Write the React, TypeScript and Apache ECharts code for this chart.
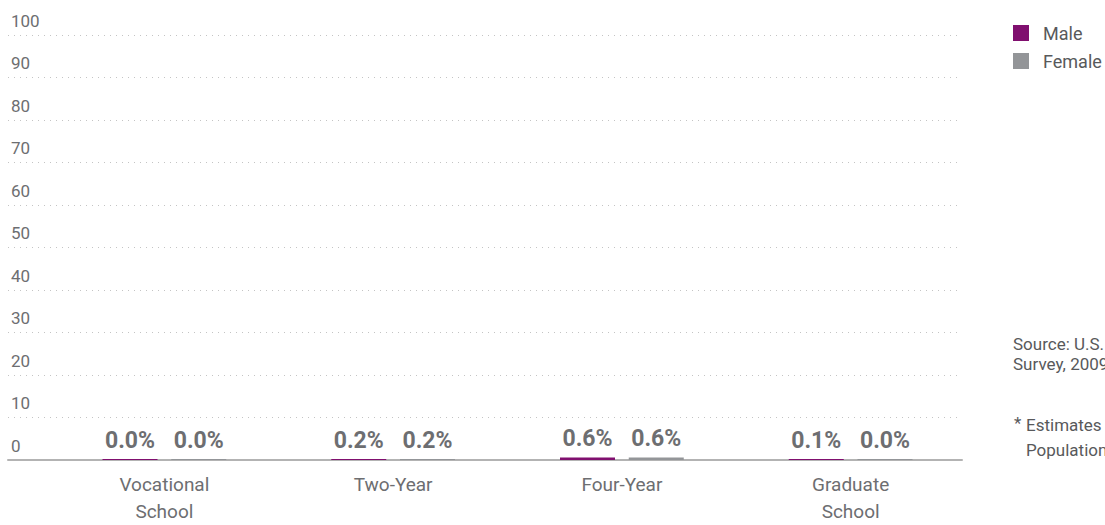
import React, { useEffect, useRef } from "react";
import * as echarts from "echarts";

const categories = ["Vocational\nSchool", "Two-Year", "Four-Year", "Graduate\nSchool"];
const maleValues = [0.0, 0.2, 0.6, 0.1];
const femaleValues = [0.0, 0.2, 0.6, 0.0];
const seriesNames = ["Male", "Female"];
const yMin = 0;
const yMax = 100;
const yInterval = 10;
const sourceLines = ["Source: U.S. Census Bureau, American Community", "Survey, 2009"];
const noteLines = ["Estimates are for the total U.S.", "Population"];

const MALE = "#800f6f";
const FEMALE = "#939598";
const TEXT = "#6d6e71";
const DARK = "#58595b";
const FONT = "Roboto, 'Noto Sans', sans-serif";

export default function App() {
  const ref = useRef<HTMLDivElement>(null);
  useEffect(() => {
    document.body.style.margin = "0";
    const chart = echarts.init(ref.current!, null, { renderer: "svg" });
    const barLabel = {
      show: true,
      position: "top",
      distance: 7,
      formatter: (p: any) => `${Number(p.value).toFixed(1)}%`,
      color: TEXT,
      fontFamily: FONT,
      fontWeight: "bold",
      fontSize: 23,
    };
    chart.setOption({
      animation: false,
      textStyle: { fontFamily: FONT },
      grid: [
        { left: 8, right: 143, top: 35, bottom: 65 },
        { left: 50, right: 140, top: 35, bottom: 65 },
      ],
      xAxis: [
        {
          gridIndex: 0,
          type: "category",
          data: [""],
          axisLine: { show: true, lineStyle: { color: "#b3b3b3", width: 2 } },
          axisTick: { show: false },
          axisLabel: { show: false },
          splitLine: { show: false },
        },
        {
          gridIndex: 1,
          type: "category",
          data: categories,
          axisLine: { show: false },
          axisTick: { show: false },
          axisLabel: {
            color: TEXT,
            fontSize: 19,
            fontFamily: FONT,
            margin: 11,
            lineHeight: 27,
          },
        },
      ],
      yAxis: [
        {
          gridIndex: 0,
          type: "value",
          min: yMin,
          max: yMax,
          interval: yInterval,
          axisLine: { show: false },
          axisTick: { show: false },
          axisLabel: {
            inside: true,
            margin: 3,
            color: TEXT,
            fontSize: 17,
            fontFamily: FONT,
            verticalAlign: "bottom",
            padding: [0, 0, 6, 0],
          },
          splitLine: {
            show: true,
            lineStyle: { color: "#c4c4c4", type: [1, 5], width: 1 },
          },
        },
        {
          gridIndex: 1,
          type: "value",
          min: yMin,
          max: yMax,
          interval: yInterval,
          show: false,
          splitLine: { show: false },
        },
      ],
      legend: {
        orient: "vertical",
        left: 1008,
        top: 19,
        itemWidth: 16,
        itemHeight: 16,
        itemGap: 10,
        icon: "rect",
        data: seriesNames,
        textStyle: {
          color: DARK,
          fontSize: 18,
          fontFamily: FONT,
          padding: [0, 0, 0, 9],
        },
      },
      series: [
        {
          name: seriesNames[0],
          type: "bar",
          xAxisIndex: 1,
          yAxisIndex: 1,
          data: maleValues,
          barWidth: 55,
          barGap: "25%",
          barMinHeight: 1,
          itemStyle: { color: MALE },
          label: barLabel,
          z: 5,
        },
        {
          name: seriesNames[1],
          type: "bar",
          xAxisIndex: 1,
          yAxisIndex: 1,
          data: femaleValues,
          barWidth: 55,
          barGap: "25%",
          barMinHeight: 1,
          itemStyle: { color: FEMALE },
          label: barLabel,
          z: 5,
        },
      ],
      graphic: [
        ...sourceLines.map((t, i) => ({
          type: "text",
          left: 1013,
          top: 335 + i * 20,
          style: { text: t, fill: DARK, fontSize: 17, fontFamily: FONT },
        })),
        {
          type: "text",
          left: 1014,
          top: 414,
          style: { text: "*", fill: DARK, fontSize: 17, fontFamily: FONT },
        },
        ...noteLines.map((t, i) => ({
          type: "text",
          left: 1026,
          top: 416 + i * 25,
          style: { text: t, fill: DARK, fontSize: 17, fontFamily: FONT },
        })),
      ],
    });
    return () => chart.dispose();
  }, []);
  return <div ref={ref} style={{ width: 1105, height: 525 }} />;
}
